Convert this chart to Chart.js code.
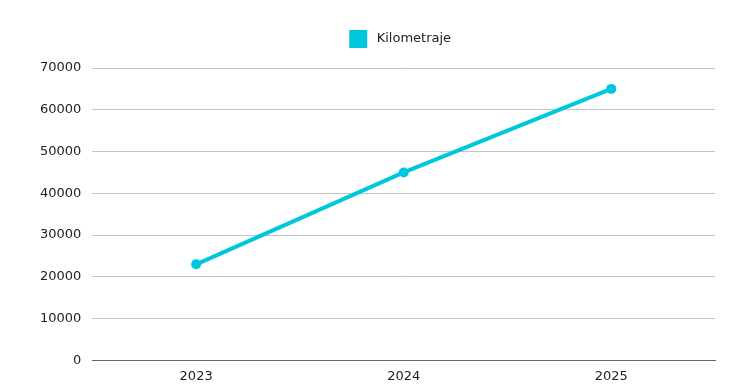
<!DOCTYPE html>
<html>
<head>
<meta charset="utf-8">
<script src="https://cdn.jsdelivr.net/npm/chart.js@4/dist/chart.umd.min.js"></script>
<style>
html,body{margin:0;padding:0;background:#fff;}
#wrap{width:744px;height:385px;position:relative;}
</style>
</head>
<body>
<div id="wrap"><canvas id="c"></canvas></div>
<script>
const categories = ['2023', '2024', '2025'];
const kilometraje = [23000, 45000, 65000];
const seriesLabel = 'Kilometraje';

const color = 'rgb(0,200,220)';
const fontFam = 'DejaVu Sans';
const legendSpacer = {
  id: 'legendSpacer',
  beforeInit(chart) {
    const lg = chart.legend;
    if (lg) {
      const orig = lg.fit;
      lg.fit = function () { orig.call(this); this.height += 5; };
    }
  },
  afterLayout(chart) {
    const lg = chart.legend;
    if (lg) { lg.left -= 5; lg.right -= 5; lg.top -= 2; lg.bottom -= 2; }
  }
};
const chart = new Chart(document.getElementById('c'), {
  type: 'line',
  data: {
    labels: categories,
    datasets: [{
      label: seriesLabel,
      data: kilometraje,
      borderColor: color,
      backgroundColor: color,
      borderWidth: 4,
      pointRadius: 5,
      pointBorderWidth: 0,
      pointHoverRadius: 5,
      tension: 0
    }]
  },
  plugins: [legendSpacer],
  options: {
    responsive: true,
    maintainAspectRatio: false,
    animation: false,
    layout: { padding: { left: 29, right: 29, top: 13, bottom: -7 } },
    plugins: {
      legend: {
        position: 'top',
        fullSize: false,
        labels: {
          boxWidth: 24, boxHeight: 24, padding: 16,
          color: '#222',
          font: { family: fontFam, size: 13 },
          generateLabels(ch) {
            return Chart.defaults.plugins.legend.labels.generateLabels(ch).map(l => Object.assign(l, {
              fillStyle: color, strokeStyle: '#ffffff', lineWidth: 6
            }));
          }
        }
      },
      tooltip: { enabled: false }
    },
    scales: {
      x: {
        offset: true,
        grid: { display: false, drawTicks: false },
        border: { color: '#666' },
        ticks: { color: '#222', padding: 8, font: { family: fontFam, size: 13 } }
      },
      y: {
        min: 0, max: 70000,
        ticks: {
          stepSize: 10000, color: '#222', padding: 11,
          font: { family: fontFam, size: 13 },
          callback: v => String(v)
        },
        grid: { color: '#c4c4c4', drawTicks: false },
        border: { display: false }
      }
    }
  }
});
</script>
</body>
</html>
